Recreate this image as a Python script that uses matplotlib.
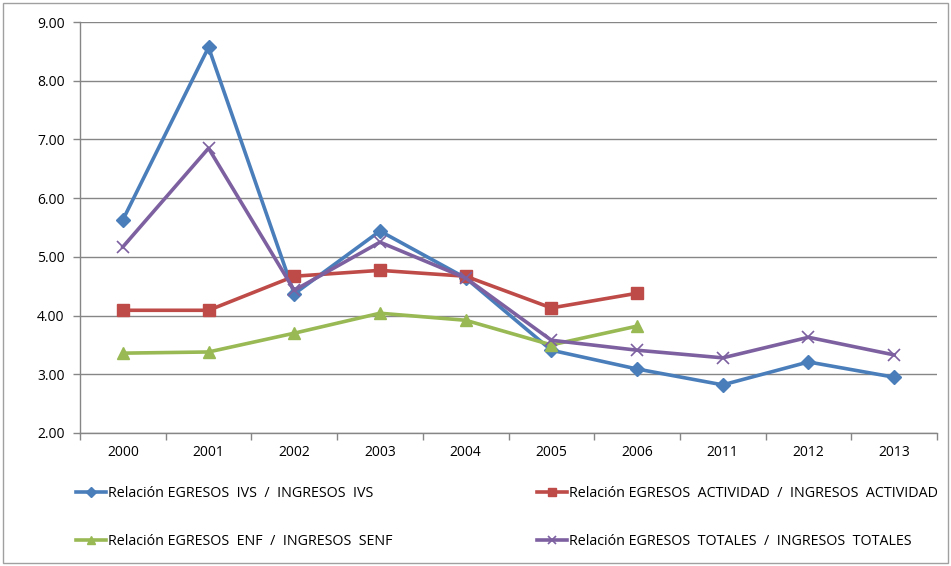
import matplotlib
matplotlib.use("Agg")
import matplotlib.pyplot as plt
from matplotlib.patches import Rectangle

years = ["2000", "2001", "2002", "2003", "2004", "2005", "2006", "2011", "2012", "2013"]
ivs = [5.63, 8.57, 4.37, 5.44, 4.64, 3.41, 3.09, 2.82, 3.21, 2.95]
actividad = [4.09, 4.09, 4.67, 4.77, 4.67, 4.13, 4.38]
enf = [3.36, 3.38, 3.70, 4.04, 3.92, 3.50, 3.82]
totales = [5.17, 6.85, 4.43, 5.25, 4.64, 3.58, 3.41, 3.28, 3.63, 3.33]

labels = [
    "Relación EGRESOS  IVS  /  INGRESOS  IVS",
    "Relación EGRESOS  ACTIVIDAD  /  INGRESOS  ACTIVIDAD",
    "Relación EGRESOS  ENF  /  INGRESOS  SENF",
    "Relación EGRESOS  TOTALES  /  INGRESOS  TOTALES",
]
colors = ["#4A7EBB", "#BE4B48", "#98B954", "#7D60A0"]

plt.rcParams['font.family'] = ['Open Sans', 'DejaVu Sans']

fig = plt.figure(figsize=(9.51, 5.66), dpi=100)
ax = fig.add_axes([80/951, 1-433/566, (937-80)/951, (433-22)/566])

x_all = list(range(len(years)))
series = [(ivs, 'D', 7), (actividad, 's', 8), (enf, '^', 8), (totales, 'x', 8)]
handles = []
for (vals, mk, ms), c, lab in zip(series, colors, labels):
    xs = x_all[:len(vals)]
    if mk == 'x':
        h, = ax.plot(xs, vals, color=c, lw=2.6, marker=mk, ms=ms, mew=1.2, label=lab)
    else:
        h, = ax.plot(xs, vals, color=c, lw=2.6, marker=mk, ms=ms, mec=c, mfc=c, label=lab)
    handles.append(h)

ax.set_xlim(-0.5, len(years) - 0.5)
ax.set_ylim(2, 9)
ax.set_yticks([2, 3, 4, 5, 6, 7, 8, 9])
ax.set_yticklabels([f"{v:.2f}" for v in [2, 3, 4, 5, 6, 7, 8, 9]], fontsize=10)
ax.set_xticks(x_all)
ax.set_xticklabels(years, fontsize=10)
ax.set_xticks([i - 0.5 for i in range(len(years) + 1)], minor=True)
ax.tick_params(axis='x', which='major', length=0, pad=9)
ax.tick_params(axis='x', which='minor', length=5, color='#868686', width=1)
ax.tick_params(axis='y', length=5, color='#868686', width=1, pad=6)
ax.grid(axis='y', color='#868686', lw=1)
ax.set_axisbelow(True)
for s in ['top', 'right']:
    ax.spines[s].set_visible(False)
for s in ['left', 'bottom']:
    ax.spines[s].set_color('#868686')
    ax.spines[s].set_linewidth(1)

leg_kw = dict(frameon=False, fontsize=10.3, handlelength=2.1, handletextpad=0.15,
              labelspacing=2.3, markerscale=0.75, loc='upper left',
              borderaxespad=0, borderpad=0)
leg1 = fig.legend(handles=[handles[0], handles[2]], labels=[labels[0], labels[2]],
                  bbox_to_anchor=(76/951, 1-486/566), **leg_kw)
leg2 = fig.legend(handles=[handles[1], handles[3]], labels=[labels[1], labels[3]],
                  bbox_to_anchor=(537/951, 1-486/566), **leg_kw)

fig.patches.append(Rectangle((3/951, 3/566), 1-6/951, 1-6/566, transform=fig.transFigure,
                             fill=False, edgecolor='#A0A0A0', lw=1))

fig.savefig("out.png", dpi=100)
